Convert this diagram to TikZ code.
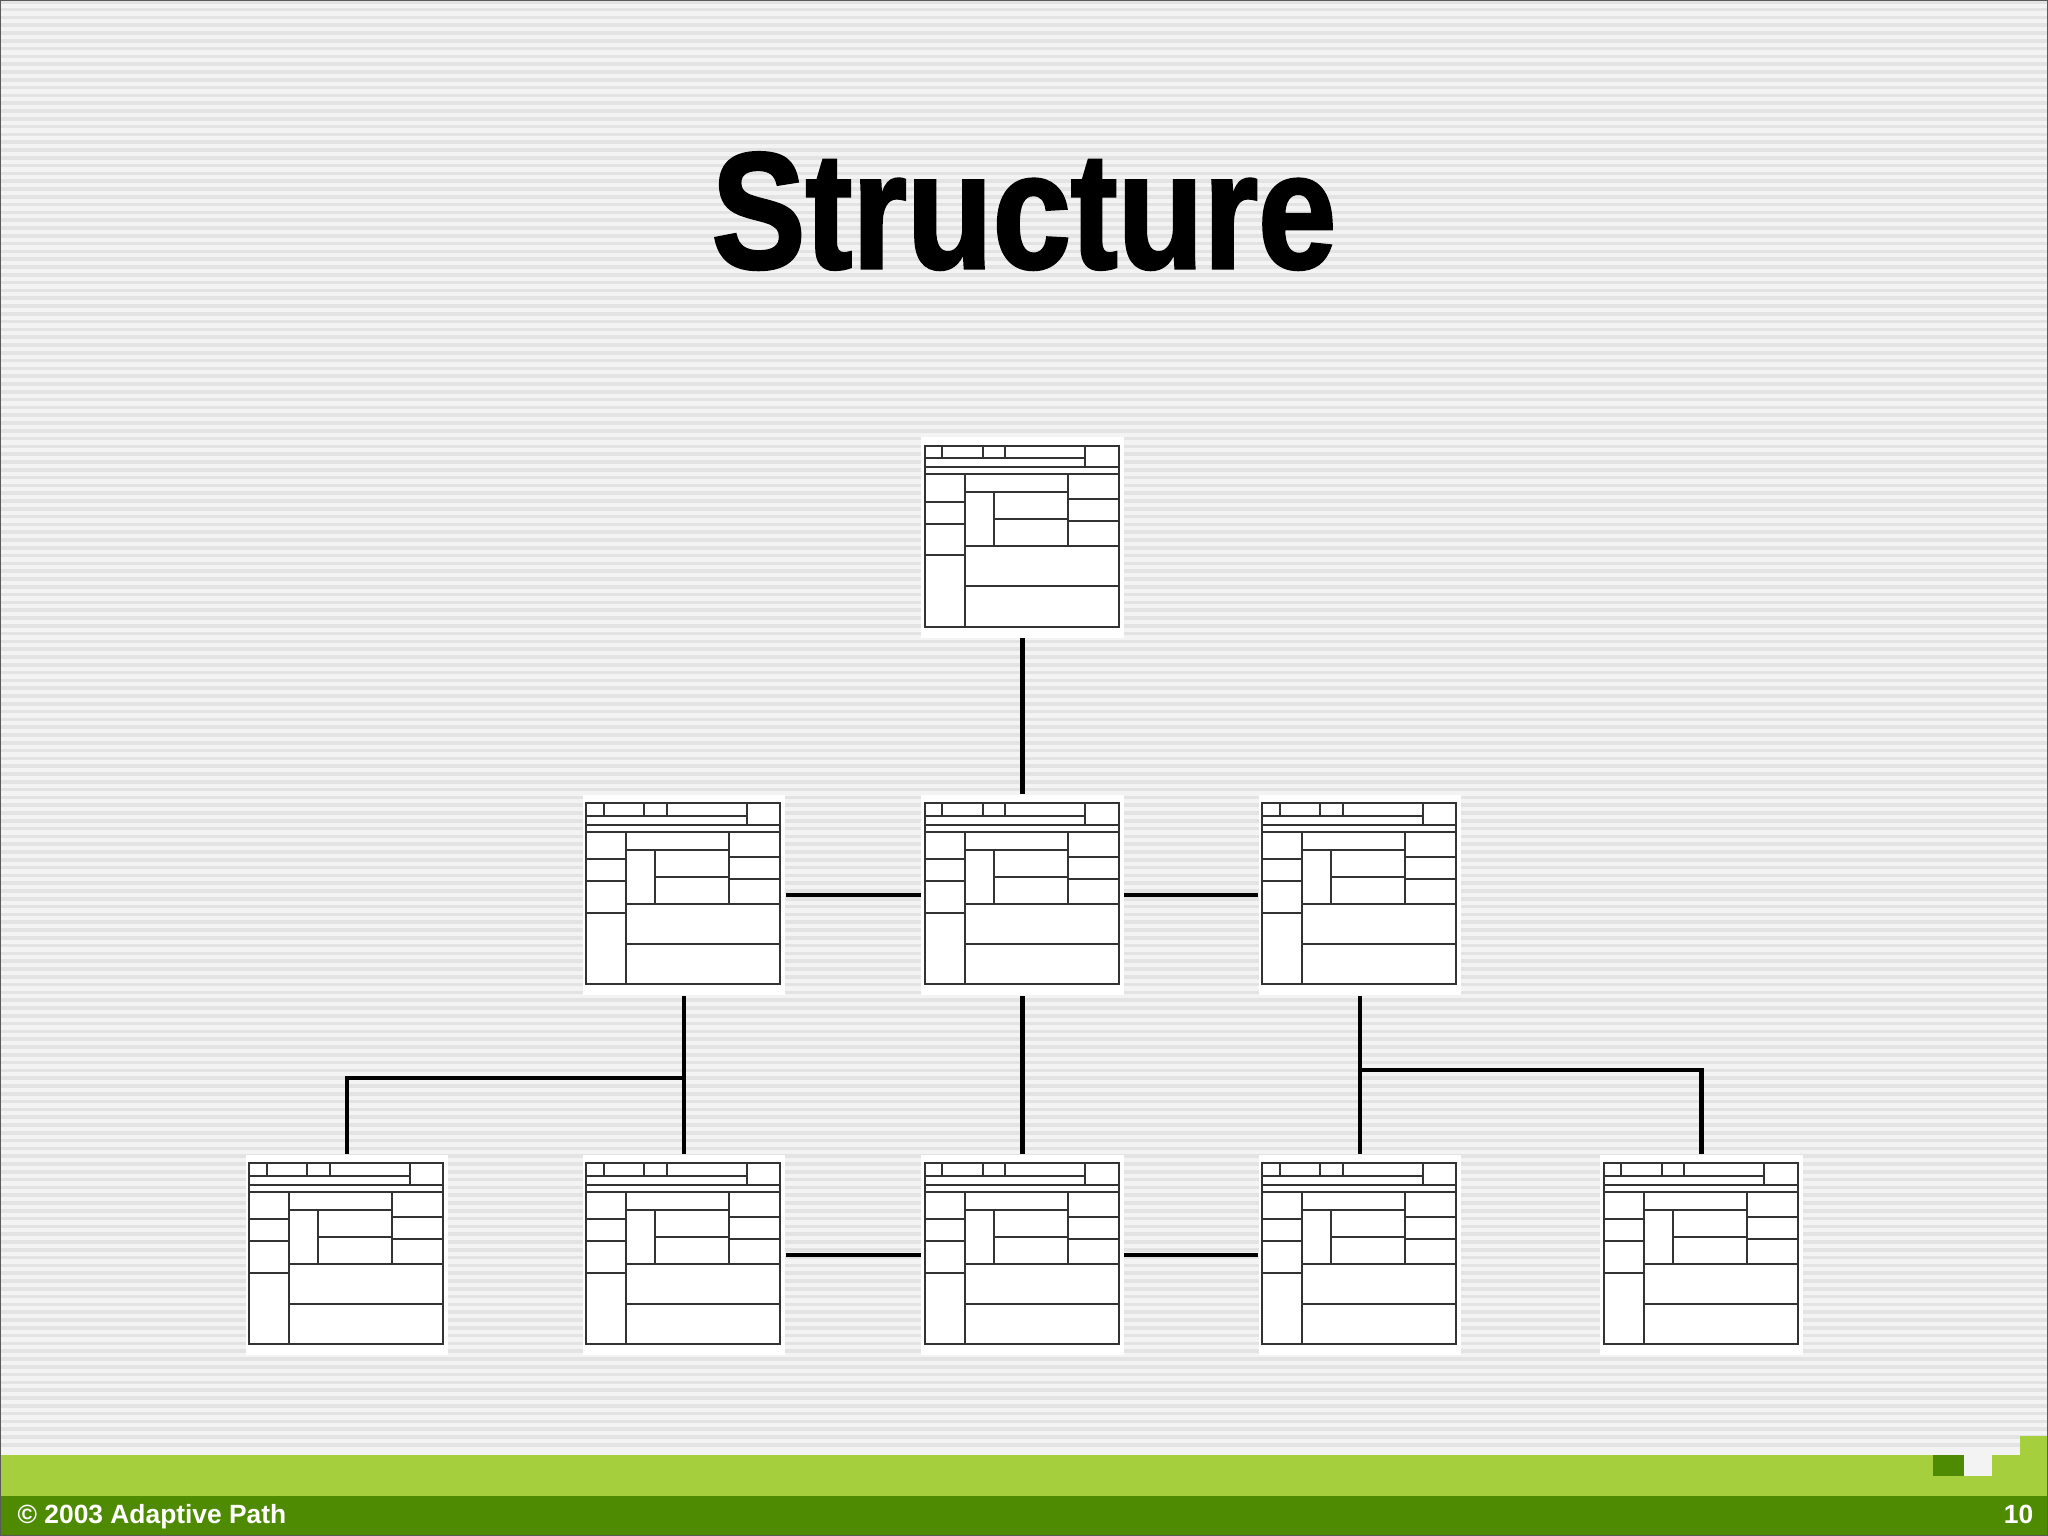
\documentclass[tikz,border=0pt]{standalone}
\usepackage{fontspec}
\setmainfont{Liberation Sans}
\newfontfamily\titlefont[FakeBold=2]{Liberation Sans}
\usetikzlibrary{calc}

\definecolor{leaf}{HTML}{A6CF3E}
\definecolor{moss}{HTML}{4E8B02}
\definecolor{paper}{HTML}{F3F3F3}
\definecolor{stripe}{HTML}{E3E3E3}

% one page wireframe, drawn inside the named page node
\newcommand{\pagelayout}[1]{%
  \begin{scope}[shift={(#1.north west)}, shift={(4,9)}, wire]
    \draw (0,0) rectangle (194,181);
    \draw (0,12.7) -- (160.7,12.7) (160.7,0) -- (160.7,21.7);
    \foreach \tx in {17.7,58,80.3} \draw (\tx,0) -- (\tx,12.7);
    \draw (0,21.7) -- (194,21.7) (0,28.3) -- (194,28.3);
    \draw (40,28.3) -- (40,181);
    \foreach \ly in {56,78,109.3} \draw (0,\ly) -- (40,\ly);
    \draw (40,46.7) -- (143,46.7) (143,28.3) -- (143,100.3)
          (69,46.7) -- (69,100.3) (69,73.3) -- (143,73.3);
    \foreach \ry in {53.3,75.7} \draw (143,\ry) -- (194,\ry);
    \draw (40,100.3) -- (194,100.3) (40,140.7) -- (194,140.7);
  \end{scope}}

\begin{document}
\begin{tikzpicture}[x=0.01cm, y=-0.01cm,
  page/.style={fill=white, inner sep=0pt, minimum width=2.02cm, minimum height=2cm},
  wire/.style={draw=black!80, line width=0.55pt},
  link/.style={draw=black, line width=1.15pt}]
\useasboundingbox (0,0) rectangle (2048,1536);

% striped background
\fill[paper] (0,0) rectangle (2048,1536);
\foreach \yy in {0,7.8,...,1450} \fill[stripe] (0,\yy) rectangle (2048,\yy+3.6);

% footer
\fill[leaf] (0,1455) rectangle (2048,1536);
\fill[leaf] (2020,1436) rectangle (2048,1455);
\fill[moss] (0,1496) rectangle (2048,1536);
\fill[moss] (1933,1455) rectangle (1964,1476);
\fill[paper] (1964,1455) rectangle (1992,1476);
\node[anchor=base west, inner sep=0pt, text=white, font=\fontsize{7.5pt}{9pt}\selectfont\bfseries]
  (copy) at (17,1523) {© 2003 Adaptive Path};
\node[anchor=base east, inner sep=0pt, text=white, font=\fontsize{7.5pt}{9pt}\selectfont\bfseries]
  (pageno) at (2034,1523) {10};

% title
\node[anchor=base, inner sep=0pt, font=\titlefont\fontsize{47pt}{50pt}\selectfont\bfseries]
  (title) at (1024,268) {\scalebox{0.85}[1]{Structure}};

% pages
\node[page] (home) at (1022.5,537.5) {};
\node[page] (sec1) at (684,895) {};
\node[page] (sec2) at (1022.5,895) {};
\node[page] (sec3) at (1360,895) {};
\node[page] (sub1) at (347,1255) {};
\node[page] (sub2) at (684,1255) {};
\node[page] (sub3) at (1022.5,1255) {};
\node[page] (sub4) at (1360,1255) {};
\node[page] (sub5) at (1701.5,1255) {};
\foreach \p in {home,sec1,sec2,sec3,sub1,sub2,sub3,sub4,sub5} {\pagelayout{\p}}

% links
\coordinate (j1) at ($(sec1.south)!0.52!(sub2.north)$);
\coordinate (j2) at ($(sec3.south)!0.47!(sub4.north)$);
\path[link]
  (home) edge (sec2)
  (sec1) edge (sec2)
  (sec2) edge (sec3)
  (sec1) edge (sub2)
  (sec2) edge (sub3)
  (sec3) edge (sub4)
  (sub2) edge (sub3)
  (sub3) edge (sub4);
\draw[link] (j1) -| (sub1.north);
\draw[link] (j2) -| (sub5.north);

\draw[black!65, line width=0.6pt] (0,0) rectangle (2048,1536);
\end{tikzpicture}
\end{document}
